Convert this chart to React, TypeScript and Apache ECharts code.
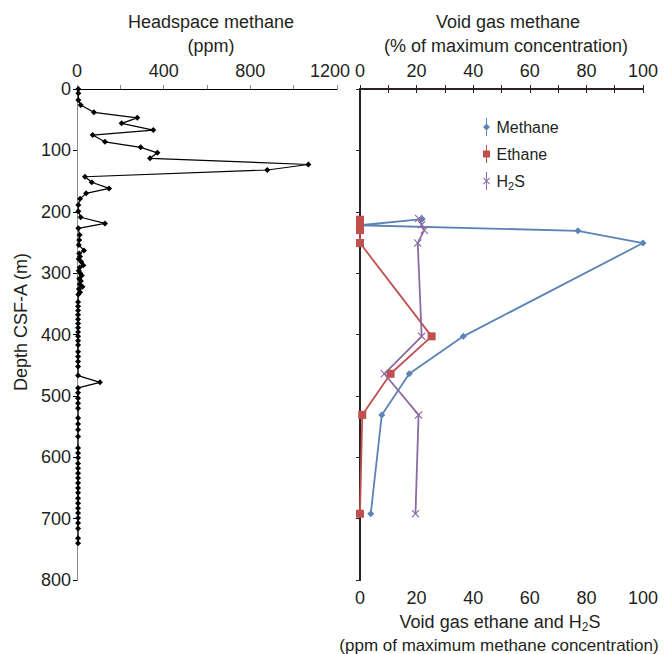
import React, { useEffect, useRef } from "react";
import * as echarts from "echarts";

// Headspace methane (ppm) vs depth (m)
const headDepth = [
  0, 7, 18, 26, 38, 47, 56, 67, 75, 86, 95, 104, 113, 123, 132, 143, 152, 162, 170, 179,
  189, 199, 209, 219, 227, 238, 246, 254, 263, 268, 273, 277, 282, 287, 291, 296, 300, 304,
  309, 313, 318, 322, 326, 331, 335, 347, 354, 361, 368, 375, 382, 389, 396, 403, 410, 417,
  428, 436, 444, 452, 467, 478, 487, 495, 504, 512, 520, 536, 546, 555, 566, 585, 593, 601,
  610, 618, 626, 634, 642, 650, 658, 667, 675, 683, 691, 699, 707, 716, 732, 740,
];
const headPpm = [
  6, 6, 6, 17, 78, 278, 206, 352, 72, 129, 294, 371, 337, 1068, 878, 37, 68, 148, 42, 14,
  6, 6, 17, 129, 6, 12, 10, 8, 32, 10, 14, 8, 20, 29, 12, 8, 15, 22, 10, 18, 12, 25, 9, 14,
  6, 5, 5, 5, 5, 5, 5, 5, 5, 5, 5, 5,
  5, 5, 5, 5, 5, 106, 5, 5, 5, 5, 5, 5, 5, 5, 5, 5, 5, 5,
  5, 5, 5, 5, 5, 5, 5, 5, 5, 5, 5, 5, 5, 5, 5, 5,
];

// Void gas data
const voidDepthMethane = [212, 222, 231, 251, 403, 464, 531, 692];
const voidMethane = [22, 0, 77, 100, 36.5, 17.4, 7.7, 3.8];
const voidDepthEthane = [213, 223, 230, 251, 403, 464, 531, 692];
const voidEthane = [0, 0, 0, 0, 25.3, 10.8, 0.8, 0];
const voidDepthH2S = [211, 221, 230, 251, 403, 464, 531, 692];
const voidH2S = [20.7, 21.8, 22.7, 20.4, 21.8, 8.6, 20.7, 19.6];

const FONT = '"Liberation Sans", Arial, Helvetica, sans-serif';
const TXT = "#231f20";
const C_METH = "#5b84b4";
const C_ETH = "#c0504d";
const C_H2S = "#8a6ca3";
const FRAME = "#2b2222";

const X_PATH = "path://M0,1L1,0L5,4L9,0L10,1L6,5L10,9L9,10L5,6L1,10L0,9L4,5Z";

export default function App() {
  const ref = useRef<HTMLDivElement>(null);
  useEffect(() => {
    if (!ref.current) return;
    const chart = echarts.init(ref.current, null, { renderer: "svg" });
    const pair = (xs: number[], ys: number[]) => xs.map((x, i) => [x, ys[i]]);

    const tickLabel = { fontFamily: FONT, fontSize: 18, color: TXT };
    const every = (n: number) => (v: number) => (Math.round(v) % n === 0 ? String(Math.round(v)) : "");

    chart.setOption({
      animation: false,
      backgroundColor: "#ffffff",
      textStyle: { fontFamily: FONT },
      grid: [
        { left: 77, top: 89, width: 260, height: 491 },
        { left: 360, top: 89, width: 283, height: 491 },
      ],
      xAxis: [
        {
          gridIndex: 0, type: "value", position: "top", min: 0, max: 1200, interval: 200,
          axisLine: { show: true, lineStyle: { color: "#8a8a8a", width: 1 } },
          axisTick: { show: true, length: 4, lineStyle: { color: "#8a8a8a" } },
          axisLabel: {
            ...tickLabel, margin: 9,
            formatter: (v: number) => {
              const r = Math.round(v);
              if (r % 400 !== 0) return "";
              return r === 1200 ? "{m|1200}" : String(r);
            },
            rich: { m: { fontFamily: FONT, fontSize: 18, color: TXT, padding: [0, 14, 0, 0] } },
          },
          splitLine: { show: false },
        },
        {
          gridIndex: 0, type: "value", position: "bottom", min: 0, max: 1200, interval: 200,
          axisLine: { show: true, lineStyle: { color: "#000", width: 1 } },
          axisTick: { show: false }, axisLabel: { show: false }, splitLine: { show: false },
        },
        {
          gridIndex: 1, type: "value", position: "top", min: 0, max: 100, interval: 10,
          axisLine: { show: true, lineStyle: { color: FRAME, width: 2 } },
          axisTick: { show: true, length: 4, lineStyle: { color: FRAME } },
          axisLabel: { ...tickLabel, formatter: every(20), margin: 9 },
          splitLine: { show: false },
        },
        {
          gridIndex: 1, type: "value", position: "bottom", min: 0, max: 100, interval: 10,
          axisLine: { show: true, lineStyle: { color: FRAME, width: 2 } },
          axisTick: { show: true, length: 4, lineStyle: { color: FRAME } },
          axisLabel: { ...tickLabel, formatter: every(20), margin: 9 },
          splitLine: { show: false },
        },
      ],
      yAxis: [
        {
          gridIndex: 0, type: "value", inverse: true, min: 0, max: 800, interval: 100,
          position: "left",
          axisLine: { show: true, lineStyle: { color: "#000", width: 1 } },
          axisTick: { show: true, length: 4, lineStyle: { color: "#000" } },
          axisLabel: { ...tickLabel, margin: 6, formatter: (v: number) => String(v) },
          splitLine: { show: false },
        },
        {
          gridIndex: 0, type: "value", inverse: true, min: 0, max: 800, interval: 100,
          position: "right",
          axisLine: { show: true, lineStyle: { color: "#8a8a8a", width: 1 } },
          axisTick: { show: false }, axisLabel: { show: false }, splitLine: { show: false },
        },
        {
          gridIndex: 1, type: "value", inverse: true, min: 0, max: 800, interval: 100,
          position: "left",
          axisLine: { show: true, lineStyle: { color: FRAME, width: 2 } },
          axisTick: { show: true, length: 4, lineStyle: { color: FRAME } },
          axisLabel: { show: false }, splitLine: { show: false },
        },
        {
          gridIndex: 1, type: "value", inverse: true, min: 0, max: 800, interval: 100,
          position: "right",
          axisLine: { show: true, lineStyle: { color: FRAME, width: 2 } },
          axisTick: { show: false }, axisLabel: { show: false }, splitLine: { show: false },
        },
      ],
      legend: {
        orient: "vertical",
        left: 478,
        top: 113,
        itemWidth: 10,
        itemHeight: 18,
        itemGap: 9,
        textStyle: {
          fontFamily: FONT, fontSize: 16, color: TXT,
          rich: {
            n: { fontFamily: FONT, fontSize: 16, color: TXT, lineHeight: 20 },
            s: { fontFamily: FONT, fontSize: 11, color: TXT, verticalAlign: "bottom", lineHeight: 11 },
          },
        },
        formatter: (name: string) => (name === "H2S" ? "{n|H}{s|2}{n|S}" : name),
        data: [
          { name: "Methane", icon: "path://M4.5,0H5.5V18H4.5Z M5,5.5L8.5,9L5,12.5L1.5,9Z" },
          { name: "Ethane", icon: "path://M4.5,0H5.5V18H4.5Z M1.5,5.5H8.5V12.5H1.5Z" },
          { name: "H2S", icon: "path://M4.5,0H5.5V18H4.5Z M1.5,6.2L2.2,5.5L5,8.3L7.8,5.5L8.5,6.2L5.7,9L8.5,11.8L7.8,12.5L5,9.7L2.2,12.5L1.5,11.8L4.3,9Z" },
        ],
      },
      series: [
        {
          name: "Headspace methane", type: "line", xAxisIndex: 0, yAxisIndex: 0,
          data: pair(headPpm, headDepth),
          symbol: "diamond", symbolSize: 6,
          lineStyle: { color: "#000", width: 1.2 },
          itemStyle: { color: "#000" },
          clip: false,
        },
        {
          name: "Methane", type: "line", xAxisIndex: 2, yAxisIndex: 2,
          data: pair(voidMethane, voidDepthMethane),
          symbol: "diamond", symbolSize: 7,
          lineStyle: { color: C_METH, width: 1.8 },
          itemStyle: { color: C_METH },
          clip: false,
        },
        {
          name: "Ethane", type: "line", xAxisIndex: 3, yAxisIndex: 2,
          data: pair(voidEthane, voidDepthEthane),
          symbol: "rect", symbolSize: 8,
          lineStyle: { color: C_ETH, width: 1.8 },
          itemStyle: { color: C_ETH },
          clip: false,
        },
        {
          name: "H2S", type: "line", xAxisIndex: 3, yAxisIndex: 2,
          data: pair(voidH2S, voidDepthH2S),
          symbol: X_PATH, symbolSize: 8,
          lineStyle: { color: C_H2S, width: 1.8 },
          itemStyle: { color: C_H2S },
          clip: false,
        },
      ],
      graphic: [
        { type: "text", x: 211, y: 22, style: { text: "Headspace methane", font: `18px ${FONT}`, fill: TXT, align: "center", verticalAlign: "middle" } },
        { type: "text", x: 211, y: 46, style: { text: "(ppm)", font: `18px ${FONT}`, fill: TXT, align: "center", verticalAlign: "middle" } },
        { type: "text", x: 508, y: 22, style: { text: "Void gas methane", font: `18px ${FONT}`, fill: TXT, align: "center", verticalAlign: "middle" } },
        { type: "text", x: 506, y: 46, style: { text: "(% of maximum concentration)", font: `18px ${FONT}`, fill: TXT, align: "center", verticalAlign: "middle" } },
        {
          type: "text", x: 500, y: 622,
          style: {
            text: "{n|Void gas ethane and H}{s|2}{n|S}",
            align: "center", verticalAlign: "middle",
            rich: {
              n: { fontFamily: FONT, fontSize: 18, fill: TXT, lineHeight: 22 },
              s: { fontFamily: FONT, fontSize: 12, fill: TXT, verticalAlign: "bottom", lineHeight: 12 },
            },
          },
        },
        { type: "text", x: 499, y: 645, style: { text: "(ppm of maximum methane concentration)", font: `17px ${FONT}`, fill: TXT, align: "center", verticalAlign: "middle" } },
        { type: "text", x: 21, y: 322, rotation: Math.PI / 2, style: { text: "Depth CSF-A (m)", font: `18px ${FONT}`, fill: TXT, align: "center", verticalAlign: "middle" } },
      ],
    });
    return () => chart.dispose();
  }, []);
  return <div ref={ref} style={{ width: 667, height: 654, position: "absolute", left: 0, top: 0 }} />;
}
